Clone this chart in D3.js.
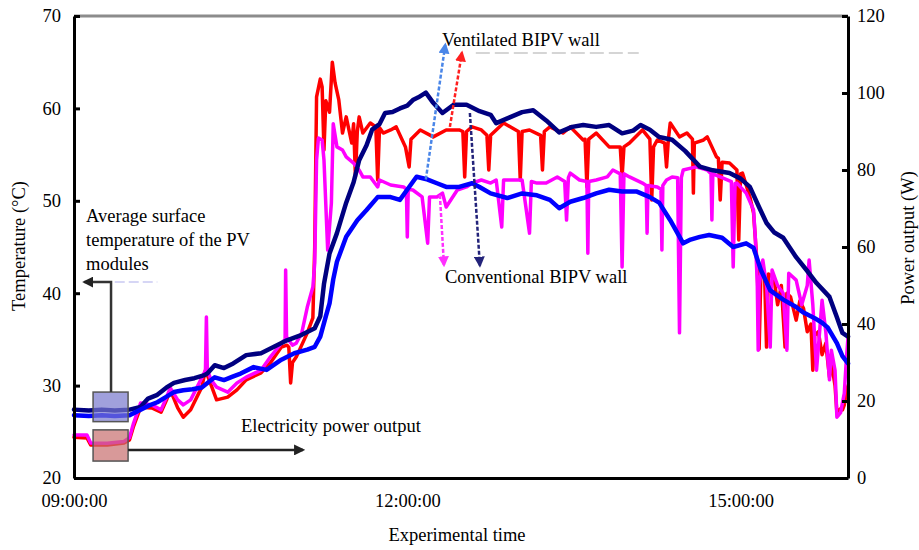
<!DOCTYPE html>
<html lang="en">
<head>
<meta charset="UTF-8">
<title>BIPV wall temperature and power output</title>
<script src="https://d3js.org/d3.v7.min.js"></script>
<style>
    body { margin: 0; background: #fff; }
    svg { font-family: "Liberation Serif", "Times New Roman", serif; }
    .axis text { font-family: "Liberation Serif", "Times New Roman", serif; font-size: 18.5px; fill: #000; }
    .axis .domain { stroke: #000; stroke-width: 3px; }
    .axis .tick line { stroke: #000; stroke-width: 3px; }
    .lbl { font-size: 18.5px; fill: #000; }
</style>
</head>
<body>
<svg id="chart" width="919" height="550"></svg>
<script>
// minutes after 09:00:00, value
const convTemp = [[0,27.4],[8,27.3],[15,27.4],[22,27.3],[30,27.4],[36,27.7],[40,28.6],[45,29.0],[50,29.8],[54,30.3],[60,30.6],[65,30.8],[70,31.1],[72,31.3],[76,32.2],[81,31.9],[86,32.4],[93,33.3],[101,33.5],[108,34.2],[115,34.9],[123,35.5],[130,36.2],[133,37.5],[135,41],[138,44.3],[142,46.5],[147,49.8],[151,52],[154,54.4],[158,56],[161,57.7],[165,58.3],[168,59.5],[172,59.6],[176,60],[180,60.3],[183,60.9],[186,61.2],[190,61.7],[194,60.6],[199,59.5],[205,60.4],[212,60.4],[219,59.7],[225,59.3],[228,58.4],[235,59],[242,59.6],[248,59.8],[255,58.7],[262,57.4],[269,58],[275,58.2],[282,58],[289,58.2],[296,57.3],[302,57.6],[306,58.2],[311,57.7],[316,56.9],[323,56.6],[330,55.4],[338,53.7],[345,53.3],[354,53],[360,52.4],[365,51.5],[370,49.3],[374,47.6],[378,46.6],[383,46],[390,43.9],[396,42.4],[401,41.1],[408,39.6],[412,37.4],[415,35.7],[418,35.3]];

const ventTemp = [[0,26.8],[8,26.7],[15,26.8],[22,26.7],[30,26.8],[36,27.4],[40,27.8],[45,28.2],[50,28.8],[54,29.3],[59,29.5],[64,29.6],[69,29.8],[76,30.9],[81,30.6],[86,31],[90,31.3],[97,32],[104,31.7],[112,32.8],[119,33.5],[126,33.9],[130,34.2],[133,35.3],[136,37.5],[138,38.9],[140,41.5],[142,43.4],[147,46.1],[153,47.9],[158,49],[164,50.4],[171,50.4],[176,50.1],[181,51.5],[185,52.6],[191,52.3],[196,51.9],[201,51.5],[208,51.5],[215,51.9],[219,51.5],[225,50.8],[234,50.3],[242,50.8],[250,50.6],[257,50.1],[262,49.2],[268,49.9],[275,50.3],[282,50.8],[289,51.2],[296,51],[304,51],[311,50.4],[316,49.8],[322,47.9],[329,45.4],[333,45.8],[338,46.1],[343,46.3],[350,46],[356,45],[363,45.4],[367,44.9],[371,42.5],[376,40.3],[383,39.3],[390,38.5],[394,37.9],[400,37.3],[404,36.8],[407,36.3],[412,34.6],[415,33.2],[418,32.4]];

const ventPower = [[0,10.6],[7,10.4],[9,8.6],[18,8.6],[27,9.1],[30,9.9],[32,13.2],[36,18.4],[42,18.2],[47,17.1],[50,20.3],[52,22.9],[56,18.2],[59,15.8],[63,17.7],[69,23.6],[71,28],[74,24.2],[77,20.3],[83,21],[88,22.9],[93,25.5],[101,27.3],[106,29.9],[112,34],[115,34.5],[116,34],[117,24.7],[118,30],[120,31.4],[126,37.7],[129,41.6],[130,60],[131,99],[133,103.6],[134,101.6],[135,85.2],[136,98],[138,95],[139.5,108],[141,102.6],[143,98.2],[145,89.6],[147,93.8],[150,87],[151,92],[152,78.2],[153,90],[154,93.8],[156,89.6],[160,92.2],[163,91.2],[164,77.4],[165,91],[167,89.6],[171,90.4],[174,91.2],[179,86],[181,80.8],[182,88],[187,90.4],[194,88.6],[201,90.4],[208,90.4],[210,90],[211,78.2],[212,90],[215,91.2],[220,90.4],[223,89],[224,80],[225,89],[228,90.4],[232,92.2],[240,90],[241,77.4],[242,90],[246,90.4],[252,89],[253,80],[254,90],[257,91.2],[264,89.6],[268,91.2],[275,87.8],[276,88],[277,75.6],[278,88],[282,89.6],[289,86],[295,86],[296,78.2],[297,86],[300,87],[307,90.4],[311,88],[312,72.2],[313,86],[315,87.8],[319,87],[320,80.8],[321,88],[322,92.2],[327,88.6],[331,89.6],[334,88],[334.5,74],[335,87],[340,87.8],[342,88.6],[347,83.4],[348,83],[349,72.2],[350,82],[354,81.8],[358,80],[359,61.8],[360,79],[361,79.2],[365,73],[367,68.8],[369,55],[370,33.5],[371,54],[373,52],[374,34],[375,53],[378,52],[380,45],[382,50],[384,34],[385,48],[387,47],[390,41],[392,46],[394,44],[396,38],[398,40],[399,28],[400,37],[402,38],[404,32],[406,35],[408,26.2],[409,30],[411,24],[412,17],[414,18],[415,17.7],[416,19],[417,22],[418,24]];

const convPower = [[0,11.2],[7,11.2],[9,9.1],[18,9],[27,9.5],[30,10.5],[32,14],[36,19.5],[42,19],[47,17.7],[50,21],[52,23.4],[56,20.3],[59,19],[63,20.3],[69,26],[71,28],[71.5,41.8],[72,28],[74,25.5],[77,23.6],[83,22.3],[88,24.7],[93,26.2],[101,28],[106,31.4],[112,35],[114,36],[114.3,54],[114.8,36.6],[118,34.5],[120,35],[123,37.7],[126,44.4],[129,49.6],[130,55.8],[131,82.6],[132,88.3],[134,87.8],[135,82.6],[137,59.2],[139,71.4],[140,92],[142,86],[145,85.2],[147,83.4],[151,81.8],[154,80],[156,78.2],[160,78.2],[164,75.6],[165,77.4],[171,76.1],[178,75.6],[179.5,75],[180,62.6],[180.5,75],[183,74.8],[188,73],[191,61],[192,73],[196,73],[199,74],[201,70.4],[207,74.8],[212,75.6],[215,76.6],[220,77.4],[225,76.6],[228,77.4],[231,65.2],[232,77.4],[240,77.4],[242,77.4],[246,63.6],[247,77],[250,76.6],[255,76.6],[261,78.2],[265,77],[266,67],[267,78],[268,79.2],[273,77.4],[277,77],[277.5,58.4],[278,77],[282,77.4],[288,78.2],[291,80],[295,79],[296,54.8],[297,79],[300,78.2],[307,76.6],[309,76],[309.5,63.6],[310,76],[315,75.6],[317,75],[317.5,59.2],[318,76],[320,77.4],[323,78.2],[326,78],[327,37.7],[328,78],[329,80],[336,80.8],[342,80],[344,79],[344.5,67],[345,79],[349,78.2],[355,77],[356,54.8],[357,76.5],[358,76.6],[363,74],[367,69.6],[368,62],[369,50.6],[369.5,33.2],[370,50],[372,56.6],[374,50],[376,34],[377,54],[380,50],[383,48],[385,33.2],[386,53.2],[390,51.4],[393,45],[396,50],[397,56.6],[399,45],[401,28],[403,40],[404,46.2],[406,38],[408,25.5],[409,33.2],[411,28],[412,15.8],[414,17],[415,19.5],[416,22],[417,30],[418,36.6]];

const tempTicks = [20, 30, 40, 50, 60, 70];
const powerTicks = [0, 20, 40, 60, 80, 100, 120];
const timeTicks = [0, 180, 360];
const timeLabels = ["09:00:00", "12:00:00", "15:00:00"];

const svg = d3.select("#chart");
const plotLeft = 74, plotRight = 848, plotTop = 16, plotBottom = 478;

let x = d3.scaleLinear().domain([0, 418]).range([plotLeft, plotRight]);
let yT = d3.scaleLinear().domain([20, 70]).range([plotBottom, plotTop]);
let yP = d3.scaleLinear().domain([0, 120]).range([plotBottom, plotTop]);

// top border
svg.append("line").attr("x1", plotLeft).attr("x2", plotRight).attr("y1", plotTop).attr("y2", plotTop)
    .attr("stroke", "#8c8c8c").attr("stroke-width", 3);

// series
let lineT = d3.line().x(d => x(d[0])).y(d => yT(d[1]));
let lineP = d3.line().x(d => x(d[0])).y(d => yP(d[1]));
const series = [
    {data: ventPower, gen: lineP, color: "#ff0000", w: 3.5},
    {data: convPower, gen: lineP, color: "#ff00ff", w: 3.5},
    {data: convTemp, gen: lineT, color: "#000080", w: 4.5},
    {data: ventTemp, gen: lineT, color: "#0000ff", w: 4.5}
];
svg.append("g").selectAll("path").data(series).join("path")
    .attr("d", d => d.gen(d.data))
    .attr("fill", "none").attr("stroke", d => d.color).attr("stroke-width", d => d.w)
    .attr("stroke-linejoin", "round").attr("stroke-linecap", "round");

// axes
svg.append("g").attr("class", "axis").attr("transform", `translate(${plotLeft},0)`)
    .call(d3.axisLeft(yT).tickValues(tempTicks).tickSize(-6).tickSizeOuter(0).tickPadding(13));
svg.append("g").attr("class", "axis").attr("transform", `translate(${plotRight},0)`)
    .call(d3.axisRight(yP).tickValues(powerTicks).tickSize(-6).tickSizeOuter(0).tickPadding(9));
svg.append("g").attr("class", "axis").attr("transform", `translate(0,${plotBottom})`)
    .call(d3.axisBottom(x).tickValues(timeTicks).tickFormat((d, i) => timeLabels[i])
        .tickSize(0).tickSizeOuter(0).tickPadding(16));

// axis titles
svg.append("text").attr("class", "lbl").attr("text-anchor", "middle")
    .attr("transform", "translate(25,246) rotate(-90)").text("Temperature (°C)");
svg.append("text").attr("class", "lbl").attr("text-anchor", "middle")
    .attr("transform", "translate(914,238) rotate(-90)").text("Power output (W)");
svg.append("text").attr("class", "lbl").attr("text-anchor", "middle")
    .attr("x", 457).attr("y", 541).text("Experimental time");

// arrow markers
let defs = svg.append("defs");
function marker(id, color) {
    defs.append("marker").attr("id", id).attr("viewBox", "0 0 10 10")
        .attr("refX", 8).attr("refY", 5).attr("markerWidth", 11).attr("markerHeight", 11)
        .attr("markerUnits", "userSpaceOnUse").attr("orient", "auto")
        .append("path").attr("d", "M0,0L10,5L0,10z").attr("fill", color);
}
marker("mk-black", "#222");
marker("mk-blue", "#4a86e8");
marker("mk-red", "#ff2020");
marker("mk-mag", "#ff30ff");
marker("mk-navy", "#23237a");

// boxes over the starting part of the curves
svg.append("rect").attr("x", x(10.3)).attr("y", yT(29.3))
    .attr("width", x(29.2) - x(10.3)).attr("height", yT(26.1) - yT(29.3))
    .attr("fill", "rgb(120,120,205)").attr("fill-opacity", 0.7)
    .attr("stroke", "#555").attr("stroke-width", 1.5);
svg.append("rect").attr("x", x(10.3)).attr("y", yP(12.5))
    .attr("width", x(29.2) - x(10.3)).attr("height", yP(4.4) - yP(12.5))
    .attr("fill", "rgb(200,110,110)").attr("fill-opacity", 0.7)
    .attr("stroke", "#555").attr("stroke-width", 1.5);

// leader from temperature box
svg.append("path")
    .attr("d", `M${x(20)},${yT(29.3)}V${yT(41.2)}H${x(5.6)}`)
    .attr("fill", "none").attr("stroke", "#333").attr("stroke-width", 2.5)
    .attr("marker-end", "url(#mk-black)");
svg.append("line").attr("x1", x(22)).attr("x2", x(45)).attr("y1", yT(41.2)).attr("y2", yT(41.2))
    .attr("stroke", "#c9c9f2").attr("stroke-width", 1.5).attr("stroke-dasharray", "10,4");

// leader from power box
svg.append("line").attr("x1", x(29.2)).attr("x2", x(123.6)).attr("y1", yP(7.3)).attr("y2", yP(7.3))
    .attr("stroke", "#222").attr("stroke-width", 2.5).attr("marker-end", "url(#mk-black)");

// wall arrows
const arrows = [
    {from: [190, 52.3], to: [200.5, 66.9], scale: yT, color: "#4a86e8", mk: "mk-blue"},
    {from: [203, 91.2], to: [209.5, 110.5], scale: yP, color: "#ff2020", mk: "mk-red"},
    {from: [197.6, 73.5], to: [199.8, 55.3], scale: yP, color: "#ff30ff", mk: "mk-mag"},
    {from: [213.8, 59.5], to: [219.2, 43.0], scale: yT, color: "#23237a", mk: "mk-navy"}
];
svg.append("g").selectAll("line").data(arrows).join("line")
    .attr("x1", d => x(d.from[0])).attr("y1", d => d.scale(d.from[1]))
    .attr("x2", d => x(d.to[0])).attr("y2", d => d.scale(d.to[1]))
    .attr("stroke", d => d.color).attr("stroke-width", 2.5).attr("stroke-dasharray", "4,2")
    .attr("marker-end", d => `url(#${d.mk})`);

// faint line under the ventilated label
svg.append("line").attr("x1", x(217)).attr("x2", x(305)).attr("y1", yT(66)).attr("y2", yT(66))
    .attr("stroke", "#c8c8c8").attr("stroke-width", 1.5).attr("stroke-dasharray", "14,5");

// labels
let avg = svg.append("text").attr("class", "lbl").attr("x", x(6.5)).attr("y", yT(47.7));
avg.append("tspan").attr("x", x(6.5)).text("Average surface");
avg.append("tspan").attr("x", x(6.5)).attr("dy", 24).text("temperature of the PV");
avg.append("tspan").attr("x", x(6.5)).attr("dy", 24).text("modules");
svg.append("text").attr("class", "lbl").attr("x", x(90.2)).attr("y", yP(11.95)).text("Electricity power output");
svg.append("text").attr("class", "lbl").attr("x", x(198.7)).attr("y", yT(66.7)).text("Ventilated BIPV wall");
svg.append("text").attr("class", "lbl").attr("x", x(200.3)).attr("y", yT(41.1)).text("Conventional BIPV wall");
</script>
</body>
</html>
